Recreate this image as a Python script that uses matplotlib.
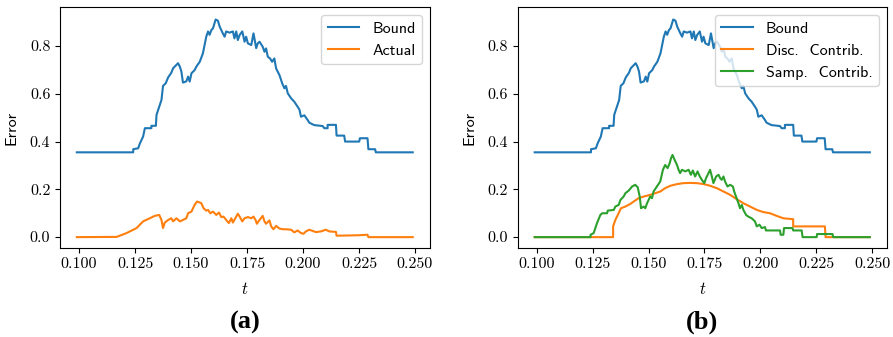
import matplotlib
matplotlib.use("Agg")
import matplotlib.pyplot as plt

plt.rcParams['mathtext.fontset'] = 'cm'

# ---- data ----
bound_t = [0.0990, 0.1242, 0.1242, 0.1264, 0.1272, 0.1286, 0.1294, 0.1323, 0.1323, 0.1343,
           0.1346, 0.1358, 0.1368, 0.1375, 0.1387, 0.1398, 0.1412, 0.1420, 0.1442, 0.1450,
           0.1457, 0.1464, 0.1479, 0.1487, 0.1494, 0.1502, 0.1516, 0.1524, 0.1539, 0.1553,
           0.1568, 0.1576, 0.1583, 0.1591, 0.1598, 0.1610, 0.1620, 0.1628, 0.1642, 0.1650,
           0.1657, 0.1672, 0.1687, 0.1694, 0.1702, 0.1709, 0.1717, 0.1729, 0.1739, 0.1746,
           0.1754, 0.1769, 0.1779, 0.1791, 0.1798, 0.1806, 0.1820, 0.1828, 0.1835, 0.1843,
           0.1853, 0.1862, 0.1872, 0.1880, 0.1895, 0.1907, 0.1917, 0.1924, 0.1932, 0.1947,
           0.1961, 0.1976, 0.1984, 0.1991, 0.2006, 0.2021, 0.2028, 0.2050, 0.2088, 0.2095,
           0.2110, 0.2110, 0.2147, 0.2150, 0.2184, 0.2188, 0.2251, 0.2254, 0.2288, 0.2292,
           0.2322, 0.2325, 0.2490]
bound_v = [0.355, 0.355, 0.368, 0.372, 0.393, 0.421, 0.456, 0.456, 0.466, 0.466,
           0.512, 0.546, 0.574, 0.633, 0.644, 0.669, 0.688, 0.707, 0.728, 0.714,
           0.693, 0.647, 0.652, 0.672, 0.651, 0.686, 0.699, 0.714, 0.734, 0.769,
           0.839, 0.861, 0.847, 0.867, 0.874, 0.911, 0.906, 0.881, 0.853, 0.839,
           0.861, 0.856, 0.861, 0.832, 0.861, 0.825, 0.846, 0.861, 0.818, 0.839,
           0.811, 0.804, 0.853, 0.791, 0.811, 0.818, 0.797, 0.776, 0.790, 0.755,
           0.748, 0.734, 0.748, 0.706, 0.678, 0.644, 0.623, 0.633, 0.602, 0.581,
           0.567, 0.546, 0.534, 0.504, 0.510, 0.490, 0.479, 0.469, 0.465, 0.456,
           0.456, 0.470, 0.470, 0.425, 0.425, 0.400, 0.400, 0.414, 0.414, 0.368,
           0.368, 0.355, 0.355]

actual_t = [0.0990, 0.1168, 0.1212, 0.1257, 0.1286, 0.1316, 0.1338, 0.1358, 0.1368, 0.1375,
            0.1383, 0.1398, 0.1412, 0.1420, 0.1435, 0.1450, 0.1464, 0.1479, 0.1487, 0.1502,
            0.1516, 0.1527, 0.1539, 0.1546, 0.1556, 0.1568, 0.1576, 0.1586, 0.1598, 0.1613,
            0.1625, 0.1635, 0.1645, 0.1657, 0.1669, 0.1680, 0.1687, 0.1702, 0.1709, 0.1717,
            0.1729, 0.1739, 0.1754, 0.1769, 0.1779, 0.1788, 0.1794, 0.1806, 0.1820, 0.1828,
            0.1835, 0.1850, 0.1858, 0.1868, 0.1880, 0.1895, 0.1909, 0.1924, 0.1947, 0.1961,
            0.1976, 0.1991, 0.2002, 0.2013, 0.2028, 0.2043, 0.2058, 0.2080, 0.2102, 0.2117,
            0.2147, 0.2150, 0.2206, 0.2251, 0.2288, 0.2292, 0.2490]
actual_v = [0.000, 0.001, 0.017, 0.038, 0.066, 0.079, 0.089, 0.093, 0.072, 0.038,
            0.061, 0.072, 0.079, 0.066, 0.079, 0.066, 0.072, 0.079, 0.100, 0.107,
            0.135, 0.149, 0.145, 0.142, 0.121, 0.111, 0.114, 0.100, 0.107, 0.093,
            0.103, 0.084, 0.086, 0.072, 0.059, 0.079, 0.061, 0.086, 0.098, 0.086,
            0.066, 0.079, 0.084, 0.079, 0.086, 0.072, 0.056, 0.072, 0.089, 0.066,
            0.056, 0.070, 0.045, 0.033, 0.047, 0.036, 0.033, 0.033, 0.031, 0.020,
            0.028, 0.017, 0.014, 0.024, 0.031, 0.026, 0.021, 0.024, 0.031, 0.024,
            0.022, 0.006, 0.007, 0.008, 0.010, 0.000, 0.000]

disc_t = [0.0990, 0.1341, 0.1341, 0.1351, 0.1362, 0.1376, 0.1396, 0.1418, 0.1433, 0.1455,
          0.1478, 0.1507, 0.1530, 0.1552, 0.1574, 0.1597, 0.1627, 0.1656, 0.1686, 0.1716,
          0.1746, 0.1775, 0.1805, 0.1835, 0.1865, 0.1894, 0.1924, 0.1954, 0.1984, 0.2013,
          0.2043, 0.2073, 0.2103, 0.2147, 0.2147, 0.2289, 0.2292, 0.2490]
disc_v = [0.000, 0.000, 0.045, 0.072, 0.093, 0.121, 0.128, 0.139, 0.149, 0.163,
          0.170, 0.177, 0.184, 0.191, 0.205, 0.215, 0.222, 0.226, 0.227, 0.226,
          0.222, 0.215, 0.205, 0.191, 0.177, 0.159, 0.142, 0.128, 0.114, 0.105,
          0.100, 0.089, 0.079, 0.075, 0.045, 0.045, 0.000, 0.000]

samp_t = [0.0990, 0.1240, 0.1240, 0.1254, 0.1269, 0.1284, 0.1292, 0.1314, 0.1317, 0.1344,
          0.1351, 0.1366, 0.1374, 0.1388, 0.1396, 0.1411, 0.1426, 0.1440, 0.1451, 0.1460,
          0.1466, 0.1478, 0.1485, 0.1493, 0.1500, 0.1507, 0.1515, 0.1522, 0.1537, 0.1552,
          0.1564, 0.1574, 0.1585, 0.1594, 0.1600, 0.1607, 0.1615, 0.1627, 0.1634, 0.1641,
          0.1649, 0.1664, 0.1679, 0.1689, 0.1698, 0.1708, 0.1719, 0.1728, 0.1738, 0.1749,
          0.1757, 0.1768, 0.1775, 0.1783, 0.1790, 0.1802, 0.1813, 0.1820, 0.1827, 0.1835,
          0.1842, 0.1853, 0.1865, 0.1877, 0.1883, 0.1891, 0.1902, 0.1909, 0.1917, 0.1924,
          0.1936, 0.1946, 0.1961, 0.1976, 0.1984, 0.1996, 0.2006, 0.2021, 0.2025, 0.2088,
          0.2091, 0.2103, 0.2106, 0.2144, 0.2147, 0.2185, 0.2189, 0.2252, 0.2254, 0.2323,
          0.2326, 0.2490]
samp_v = [0.000, 0.000, 0.010, 0.017, 0.059, 0.093, 0.100, 0.100, 0.111, 0.114,
          0.128, 0.135, 0.156, 0.170, 0.184, 0.195, 0.212, 0.219, 0.209, 0.170,
          0.121, 0.128, 0.121, 0.142, 0.156, 0.170, 0.163, 0.191, 0.212, 0.233,
          0.282, 0.302, 0.289, 0.309, 0.330, 0.344, 0.326, 0.302, 0.282, 0.268,
          0.282, 0.275, 0.282, 0.261, 0.279, 0.254, 0.275, 0.256, 0.240, 0.226,
          0.247, 0.268, 0.282, 0.254, 0.226, 0.254, 0.261, 0.247, 0.240, 0.254,
          0.233, 0.212, 0.219, 0.212, 0.191, 0.170, 0.142, 0.121, 0.135, 0.114,
          0.093, 0.086, 0.079, 0.066, 0.045, 0.052, 0.038, 0.042, 0.028, 0.028,
          0.010, 0.010, 0.038, 0.038, 0.028, 0.028, 0.000, 0.000, 0.013, 0.013,
          0.000, 0.000]

x_ticks = [0.100, 0.125, 0.150, 0.175, 0.200, 0.225, 0.250]
x_tick_labels = ["0.100", "0.125", "0.150", "0.175", "0.200", "0.225", "0.250"]
y_ticks = [0.0, 0.2, 0.4, 0.6, 0.8]
y_tick_labels = ["0.0", "0.2", "0.4", "0.6", "0.8"]

panel_a_labels = ["Bound", "Actual"]
panel_b_labels = ["Bound", "Disc.  Contrib.", "Samp.  Contrib."]
captions = ["(a)", "(b)"]

C = ['#1f77b4', '#ff7f0e', '#2ca02c']

fig = plt.figure(figsize=(8.93, 3.37), dpi=100)
axA = fig.add_axes([0.0672, 0.264, 0.4143, 0.715])
axB = fig.add_axes([0.5800, 0.264, 0.4133, 0.715])

axA.plot(bound_t, bound_v, color=C[0], lw=1.5, label=panel_a_labels[0])
axA.plot(actual_t, actual_v, color=C[1], lw=1.5, label=panel_a_labels[1])

axB.plot(bound_t, bound_v, color=C[0], lw=1.5, label=panel_b_labels[0])
axB.plot(disc_t, disc_v, color=C[1], lw=1.5, label=panel_b_labels[1])
axB.plot(samp_t, samp_v, color=C[2], lw=1.5, label=panel_b_labels[2])

cap_x = [0.2745, 0.786]
for ax, cap, cx in zip([axA, axB], captions, cap_x):
    ax.set_xticks(x_ticks)
    ax.set_xticklabels(x_tick_labels, fontfamily='cmr10', fontsize=11.5)
    ax.set_yticks(y_ticks)
    ax.set_yticklabels(y_tick_labels, fontfamily='cmr10', fontsize=11.5)
    ax.set_ylim(-0.0456, 0.963)
    ax.set_xlim(0.0915, 0.2567)
    ax.set_xlabel(r'$t$', fontsize=12, labelpad=6)
    ax.set_ylabel('Error', fontfamily='cmss10', fontsize=11.5, labelpad=8)
    ax.legend(loc='upper right', prop={'family': 'cmss10', 'size': 11.5})
    fig.text(cx, 0.044, cap, ha='center', va='center',
             fontfamily='Liberation Serif', fontweight='bold', fontsize=19)

fig.savefig('out.png', dpi=100)
